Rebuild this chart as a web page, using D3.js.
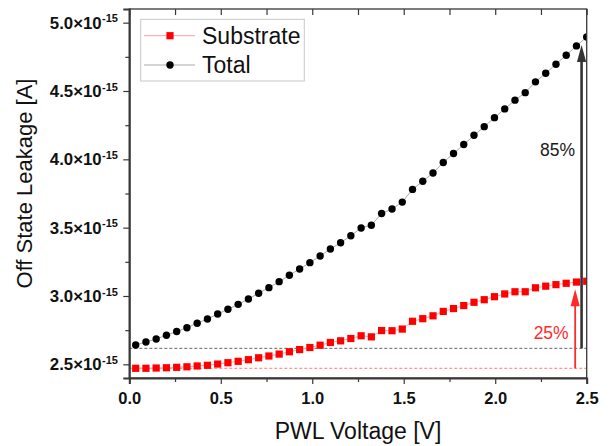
<!DOCTYPE html>
<html><head><meta charset="utf-8">
<script src="https://cdn.jsdelivr.net/npm/d3@7"></script>
<style>
html,body{margin:0;padding:0;background:#fff;}
svg{display:block;}
</style></head>
<body>
<svg id="chart" width="610" height="446"></svg>
<script>
// Values in units of 1e-15 A
const voltage = [0.035,0.091,0.147,0.203,0.259,0.315,0.371,0.427,0.483,0.539,0.595,0.651,0.707,0.763,0.819,0.875,0.931,0.987,1.043,1.099,1.155,1.211,1.267,1.323,1.379,1.436,1.492,1.548,1.604,1.660,1.716,1.772,1.828,1.884,1.940,1.996,2.052,2.108,2.164,2.220,2.276,2.332,2.388,2.444,2.500];
const substrate = [2.471,2.471,2.473,2.475,2.478,2.482,2.488,2.493,2.502,2.512,2.522,2.534,2.548,2.561,2.575,2.592,2.608,2.623,2.640,2.660,2.672,2.689,2.709,2.701,2.747,2.746,2.758,2.815,2.834,2.855,2.887,2.908,2.930,2.954,2.973,2.995,3.015,3.031,3.031,3.060,3.072,3.083,3.093,3.102,3.108];
const total = [2.641,2.663,2.685,2.713,2.740,2.768,2.801,2.832,2.868,2.903,2.939,2.978,3.020,3.061,3.105,3.152,3.198,3.244,3.293,3.344,3.390,3.441,3.498,3.518,3.604,3.637,3.687,3.780,3.840,3.900,3.977,4.043,4.108,4.176,4.239,4.305,4.369,4.433,4.488,4.567,4.630,4.696,4.762,4.830,4.895];
const seriesNames = ["Substrate","Total"];
const xTicks = [0.0,0.5,1.0,1.5,2.0,2.5];
const xMinorTicks = [0.25,0.75,1.25,1.75,2.25];
const yTicks = [2.5,3.0,3.5,4.0,4.5,5.0];
const yMinorTicks = [2.75,3.25,3.75,4.25,4.75];
const yExponent = "-15";
const refLevels = [2.617, 2.471];          // dashed reference levels (total, substrate)
const arrowLabels = ["85%","25%"];
const arrowX = [2.472, 2.437];
const arrowFrom = [2.617, 2.471];
const arrowTo = [4.837, 3.049];
const arrowLabelY = [4.024, 2.683];
const xTitle = "PWL Voltage [V]";
const yTitle = "Off State Leakage [A]";

const L = 129.3, R = 586.7, T = 9, B = 378;
const svg = d3.select("#chart");
const x = d3.scaleLinear().domain([0, 2.5]).range([L, R]);
const y = d3.scaleLinear().domain([2.4, 5.1]).range([B, T]);
const axisCol = "#383838";
const FONT = "Liberation Sans, Arial, sans-serif";

svg.append("defs").append("clipPath").attr("id","clip")
  .append("rect").attr("x",L).attr("y",T).attr("width",R-L).attr("height",B-T);

// dashed reference lines
const refColors = ["#555","#ff6a6a"];
refLevels.forEach((v,i)=>{
  svg.append("line").attr("x1",L).attr("x2",R).attr("y1",y(v)).attr("y2",y(v))
    .attr("stroke",refColors[i]).attr("stroke-width",0.9).attr("stroke-dasharray","3,2");
});

const plot = svg.append("g").attr("clip-path","url(#clip)");
const line = d3.line().x(d=>x(d[0])).y(d=>y(d[1]));
const subData = voltage.map((v,i)=>[v,substrate[i]]);
const totData = voltage.map((v,i)=>[v,total[i]]);

plot.append("path").datum(subData).attr("d",line).attr("fill","none").attr("stroke","#ffa0a0").attr("stroke-width",1);
plot.append("path").datum(totData).attr("d",line).attr("fill","none").attr("stroke","#aaa").attr("stroke-width",1);

const sq = 7.2;
plot.selectAll("rect.sub").data(subData).join("rect").attr("class","sub")
  .attr("x",d=>x(d[0])-sq/2).attr("y",d=>y(d[1])-sq/2).attr("width",sq).attr("height",sq)
  .attr("fill","#ff0000");
plot.selectAll("circle.tot").data(totData).join("circle").attr("class","tot")
  .attr("cx",d=>x(d[0])).attr("cy",d=>y(d[1])).attr("r",3.7).attr("fill","#000");

// arrows
const arrowCols = ["#333","#ff2a2a"];
const arrowW = [2.6, 1.8];
arrowLabels.forEach((lab,i)=>{
  const ax = x(arrowX[i]), y0 = y(arrowFrom[i]), y1 = y(arrowTo[i]);
  const hl = 17, hw = 4.6;
  svg.append("line").attr("x1",ax).attr("x2",ax).attr("y1",y0).attr("y2",y1+hl-1)
    .attr("stroke",arrowCols[i]).attr("stroke-width",arrowW[i]);
  svg.append("path").attr("d",`M${ax},${y1} L${ax-hw},${y1+hl} L${ax+hw},${y1+hl} Z`).attr("fill",arrowCols[i]);
  svg.append("text").attr("x",ax-6.5).attr("y",y(arrowLabelY[i])).attr("text-anchor","end")
    .attr("font-family",FONT).attr("font-size",17.5)
    .attr("fill", i===0 ? "#1a1a1a" : "#ff2a2a").text(lab);
});

// axes frame
svg.append("rect").attr("x",L).attr("y",T).attr("width",R-L).attr("height",B-T)
  .attr("fill","none").attr("stroke",axisCol).attr("stroke-width",1.3);

// bottom axis
const gx = svg.append("g").attr("transform",`translate(0,${B})`);
gx.call(d3.axisBottom(x).tickValues(xTicks).tickSize(6).tickFormat(d3.format(".1f")));
gx.call(g=>g.select(".domain").attr("stroke",axisCol).attr("stroke-width",2));
gx.selectAll(".tick line").attr("stroke",axisCol).attr("stroke-width",1.2);
gx.selectAll(".tick text").attr("font-family",FONT).attr("font-weight","bold")
  .attr("font-size",16.5).attr("fill","#111").attr("dy",null).attr("y",25.5);
const gxm = svg.append("g").attr("transform",`translate(0,${B})`);
gxm.call(d3.axisBottom(x).tickValues(xMinorTicks).tickSize(4).tickFormat(""));
gxm.select(".domain").remove();
gxm.selectAll(".tick line").attr("stroke",axisCol).attr("stroke-width",1.2);

// top axis (inward ticks)
const gt = svg.append("g").attr("transform",`translate(0,${T})`);
gt.call(d3.axisBottom(x).tickValues(xTicks.concat(xMinorTicks)).tickSize(6).tickFormat(""));
gt.select(".domain").remove();
gt.selectAll(".tick line").attr("stroke",axisCol).attr("stroke-width",1.2);

// left axis
const gy = svg.append("g").attr("transform",`translate(${L},0)`);
gy.call(d3.axisLeft(y).tickValues(yTicks).tickSize(6).tickFormat(""));
gy.select(".domain").attr("stroke",axisCol).attr("stroke-width",2);
gy.selectAll(".tick line").attr("stroke",axisCol).attr("stroke-width",1.2);
const gym = svg.append("g").attr("transform",`translate(${L},0)`);
gym.call(d3.axisLeft(y).tickValues(yMinorTicks).tickSize(4).tickFormat(""));
gym.select(".domain").remove();
gym.selectAll(".tick line").attr("stroke",axisCol).attr("stroke-width",1.2);

// y tick labels with superscript exponent
yTicks.forEach(v=>{
  const t = svg.append("text").attr("x",118).attr("y",y(v)+6).attr("text-anchor","end")
    .attr("font-family",FONT).attr("font-weight","bold").attr("font-size",16.8).attr("fill","#111");
  t.append("tspan").text(d3.format(".1f")(v)+"\u00D710");
  t.append("tspan").attr("dx",0.5).attr("dy",-6.5).attr("font-size",11).text(yExponent);
});

// titles
svg.append("text").attr("x",(L+R)/2).attr("y",438.5).attr("text-anchor","middle")
  .attr("font-family",FONT).attr("font-size",23).attr("fill","#111").text(xTitle);
svg.append("text").attr("transform","translate(31.5,183.5) rotate(-90)").attr("text-anchor","middle")
  .attr("font-family",FONT).attr("font-size",22).attr("fill","#111").text(yTitle);

// legend
const lg = svg.append("g");
lg.append("rect").attr("x",140.7).attr("y",19.3).attr("width",163.6).attr("height",61.7)
  .attr("fill","#fff").attr("stroke","#c8c8c8").attr("stroke-width",1);
const legY = [35.7, 65];
const legLine = ["#ffa0a0","#aaa"];
seriesNames.forEach((n,i)=>{
  lg.append("line").attr("x1",144).attr("x2",195).attr("y1",legY[i]).attr("y2",legY[i]).attr("stroke",legLine[i]).attr("stroke-width",1);
  if(i===0) lg.append("rect").attr("x",170-3.6).attr("y",legY[i]-3.6).attr("width",7.2).attr("height",7.2).attr("fill","#ff0000");
  else lg.append("circle").attr("cx",170).attr("cy",legY[i]).attr("r",3.7).attr("fill","#000");
  lg.append("text").attr("x",202).attr("y",legY[i]+8).attr("font-family",FONT)
    .attr("font-size",23).attr("fill","#111").text(n);
});
</script>
</body></html>
